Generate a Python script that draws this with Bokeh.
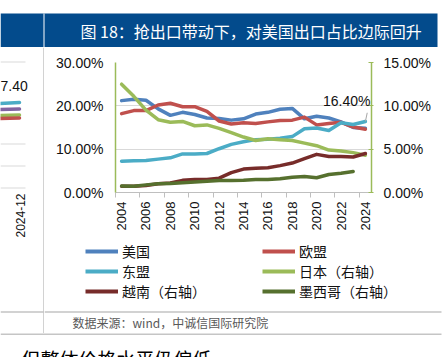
import math
import numpy as np
from bokeh.plotting import figure
from bokeh.layouts import column, row
from bokeh.models import (Range1d, LinearAxis, FixedTicker, Legend, LegendItem,
                          Label, Arrow, Grid)
from bokeh.embed import file_html
from bokeh.resources import INLINE

# ---------------- data ----------------
years = list(range(2004, 2025))
us = [21.2, 21.5, 21.3, 19.3, 17.8, 18.5, 18.0, 17.2, 17.1, 16.7, 17.0,
      18.1, 18.5, 19.2, 19.4, 17.0, 17.6, 17.2, 16.3, 15.0, 14.8]
eu = [18.2, 18.9, 18.9, 20.2, 20.6, 19.8, 19.8, 18.7, 16.5, 15.8, 16.1,
      15.9, 16.3, 16.6, 16.7, 17.4, 15.6, 15.9, 16.2, 15.1, 14.6]
asean = [7.2, 7.3, 7.4, 7.7, 8.0, 8.9, 8.9, 9.0, 10.1, 11.1, 11.7,
         12.2, 12.3, 12.5, 12.9, 14.7, 14.9, 14.3, 16.1, 15.7, 16.4]
japan = [12.5, 11.1, 9.5, 8.4, 8.1, 8.2, 7.7, 7.8, 7.4, 6.9, 6.4,
         6.0, 6.2, 6.1, 6.0, 5.7, 5.4, 4.9, 4.8, 4.6, 4.3]
vietnam = [0.72, 0.72, 0.8, 1.0, 1.1, 1.4, 1.5, 1.5, 1.65, 2.3, 2.7,
           2.8, 2.85, 3.1, 3.4, 3.9, 4.4, 4.15, 4.15, 4.1, 4.5]
mexico = [0.75, 0.73, 0.88, 1.0, 1.05, 1.12, 1.2, 1.3, 1.38, 1.38, 1.4,
          1.5, 1.5, 1.58, 1.77, 1.85, 1.7, 2.08, 2.23, 2.42, np.nan]

left_ticks = [0, 10, 20, 30]
left_labels = ["0.00%", "10.00%", "20.00%", "30.00%"]
right_ticks = [0, 5, 10, 15]
right_labels = ["0.00%", "5.00%", "10.00%", "15.00%"]
x_label_years = years[::2]
x_labels = [str(y) for y in x_label_years]

names = ["美国", "欧盟", "东盟", "日本（右轴）", "越南（右轴）", "墨西哥（右轴）"]
title_text = "图 18：抢出口带动下，对美国出口占比边际回升"
source_text = "数据来源：wind，中诚信国际研究院"
next_text = "但整体价格水平仍偏低"
left_value_text = "7.40"
left_date_text = "2024-12"

# ---------------- styles ----------------
BLUE, RED, CYAN, GREEN = "#4F81BD", "#C0504D", "#4BACC6", "#9BBB59"
DRED, DGREEN, PURPLE = "#772C2A", "#56702E", "#8064A2"
NAVY = "#034B8C"
RULE = "#A6A6A6"
NUMFONT = "Liberation Sans"
CJK = "Noto Sans CJK SC"
W, H = 445, 357


def canvas(x0, y0, x1, y1):
    """A blank figure whose data coordinates are the page's pixel coordinates."""
    f = figure(width=x1 - x0, height=y1 - y0,
               x_range=Range1d(x0, x1), y_range=Range1d(y1, y0),
               output_backend="svg", toolbar_location=None,
               x_axis_location=None, y_axis_location=None, min_border=0,
               outline_line_color=None, background_fill_color="white",
               border_fill_color="white", frame_align=False)
    for g in list(f.grid):
        g.visible = False
    return f


def rect(f, x0, y0, x1, y1, color):
    f.quad(left=x0, right=x1, top=y0, bottom=y1, fill_color=color,
           line_color=None)


# ---------------- title bar ----------------
top = canvas(0, 0, W, 47)
rect(top, 0, 13, 437, 47, NAVY)
rect(top, 43, 13, 44, 47, "white")
top.add_layout(Label(x=80, y=30, text=title_text, text_color="white",
                     text_font=CJK, text_font_size="16px",
                     text_baseline="middle"))

# ---------------- fragment of neighbouring chart (left cell) ----------------
left = canvas(0, 47, 44, 333)
rect(left, 43, 47, 44, 333, RULE)
rect(left, 0, 311, 43, 312, RULE)
for gy in [61, 143, 165, 187]:
    rect(left, 0, gy, 25, gy + 1, "#D9D9D9")
left.add_layout(Label(x=0, y=85, text=left_value_text, text_font=NUMFONT,
                      text_font_size="14px", text_baseline="middle",
                      text_color="#111111"))
for sy0, sy1, col in [(103, 102, CYAN), (109, 108.5, PURPLE),
                      (115, 114.5, GREEN), (118, 117.5, RED)]:
    left.add_layout(Arrow(end=None, x_start=-2, y_start=sy0, x_end=19,
                          y_end=sy1, line_color=col, line_width=3.5,
                          line_cap="round"))
left.add_layout(Label(x=20, y=193, text=left_date_text, angle=math.pi / 2,
                      text_align="right", text_baseline="middle",
                      text_font=NUMFONT, text_font_size="12px",
                      text_color="#111111"))

# ---------------- main chart ----------------
MX0, MY0, MX1, MY1 = 44, 47, W, 240          # figure box on the page
FL, FR, FT, FB = 115, 371, 62, 192           # frame box on the page
p = figure(width=MX1 - MX0, height=MY1 - MY0,
           x_range=Range1d(2003.5, 2024.5), y_range=Range1d(0, 30),
           output_backend="svg", toolbar_location=None,
           x_axis_location=None, y_axis_location=None,
           min_border_left=FL - MX0, min_border_right=MX1 - FR,
           min_border_top=FT - MY0, min_border_bottom=MY1 - FB,
           outline_line_color=None, background_fill_color="white",
           border_fill_color="white", frame_align=False)
for g in list(p.grid):
    g.visible = False
p.extra_y_ranges = {"r": Range1d(0, 15)}

p.add_layout(Grid(dimension=1, ticker=FixedTicker(ticks=left_ticks[1:]),
                  grid_line_color="#D9D9D9", grid_line_width=1))

axis_font = dict(major_label_text_font=NUMFONT, major_label_text_font_size="14px",
                 major_label_text_color="#111111")
yl = LinearAxis(ticker=FixedTicker(ticks=left_ticks),
                major_label_overrides=dict(zip(left_ticks, left_labels)),
                axis_line_color=GREEN, axis_line_width=1.5,
                major_tick_line_color=None, major_tick_in=0, major_tick_out=0,
                minor_tick_line_color=None, major_label_standoff=12, **axis_font)
p.add_layout(yl, "left")

yr = LinearAxis(y_range_name="r", ticker=FixedTicker(ticks=right_ticks),
                major_label_overrides=dict(zip(right_ticks, right_labels)),
                axis_line_color=GREEN, axis_line_width=1.5,
                major_tick_line_color=GREEN, major_tick_in=3, major_tick_out=2,
                minor_tick_line_color=None, major_label_standoff=10, **axis_font)
p.add_layout(yr, "right")

tick_pos = [y - 0.5 for y in x_label_years]
xt = LinearAxis(ticker=FixedTicker(ticks=tick_pos),
                major_label_overrides={t: "" for t in tick_pos},
                major_label_text_font_size="1px", major_label_standoff=0,
                axis_line_color="#BFBFBF", axis_line_width=1,
                major_tick_line_color="#BFBFBF", major_tick_in=0, major_tick_out=5,
                minor_tick_line_color=None)
p.add_layout(xt, "below")
xl = LinearAxis(ticker=FixedTicker(ticks=x_label_years),
                major_label_overrides=dict(zip(x_label_years, x_labels)),
                axis_line_color=None, major_tick_line_color=None,
                major_tick_in=0, major_tick_out=0, minor_tick_line_color=None,
                major_label_standoff=4, major_label_orientation=math.pi / 2,
                major_label_text_font="Liberation Sans Narrow, Liberation Sans",
                major_label_text_font_size="13px", major_label_text_color="#111111")
p.add_layout(xl, "below")

kw = dict(line_width=3.5, line_join="round", line_cap="round")
p.line(years, us, line_color=BLUE, **kw)
p.line(years, eu, line_color=RED, **kw)
p.line(years, asean, line_color=CYAN, **kw)
p.line(years, japan, line_color=GREEN, y_range_name="r", **kw)
p.line(years, vietnam, line_color=DRED, y_range_name="r", **kw)
p.line(years, mexico, line_color=DGREEN, y_range_name="r", **kw)

p.add_layout(Arrow(end=None, x_start=years[-1], y_start=asean[-1],
                   x_end=years[-1] + 0.15, y_end=asean[-1] + 2.0,
                   line_color=RULE, line_width=1))
p.add_layout(Label(x=years[-1], y=asean[-1], x_offset=5, y_offset=20,
                   text=f"{asean[-1]:.2f}%", text_font=NUMFONT,
                   text_font_size="14px", text_align="right",
                   text_baseline="middle", text_color="#111111"))

# ---------------- legend + source cell ----------------
lg = canvas(44, 240, W, 333)
rect(lg, 44, 311, 441, 312, RULE)
# legend keys: styled lines parked outside the visible cell
keys = [lg.line(x=[0, 1], y=[0, 0], line_color=c, line_width=4)
        for c in [BLUE, RED, CYAN, GREEN, DRED, DGREEN]]
lkw = dict(orientation="vertical", padding=0, margin=0, spacing=0,
           glyph_width=33, glyph_height=20, label_height=20, label_standoff=4,
           border_line_color=None, background_fill_alpha=0,
           label_text_font=CJK, label_text_font_size="14px",
           label_text_color="#111111")
for cols, x_left in [([0, 2, 4], 85), ([1, 3, 5], 262)]:
    lg.add_layout(Legend(items=[LegendItem(label=names[i], renderers=[keys[i]])
                                for i in cols],
                         location=(x_left - 44, 333 - 301), **lkw))
lg.add_layout(Label(x=72, y=322, text=source_text, text_color="#595959",
                    text_font=CJK, text_font_size="12px",
                    text_baseline="middle"))

# ---------------- bottom strip ----------------
bot = canvas(0, 333, W, H)
rect(bot, 0, 333, 441, 334, "#8C8C8C")
bot.add_layout(Label(x=21, y=344, text=next_text, text_color="#000000",
                     text_font=CJK, text_font_size="19px", text_baseline="top"))

page = column(top, row(left, column(p, lg, spacing=0), spacing=0), bot,
              spacing=0)

open("out.html", "w").write(file_html(page, INLINE))
